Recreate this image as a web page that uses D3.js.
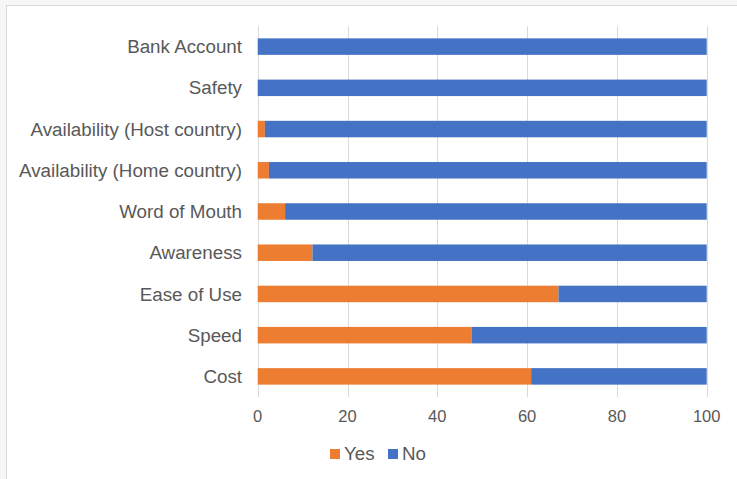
<!DOCTYPE html>
<html>
<head>
<meta charset="utf-8">
<script src="https://cdn.jsdelivr.net/npm/d3@7"></script>
<style>
  body { margin: 0; background: #f7f7f7; }
  svg { display: block; font-family: "Liberation Sans", Arial, sans-serif; }
</style>
</head>
<body>
<div class="canvas"></div>
<script>
// data, top to bottom as shown
const categories = ['Bank Account', 'Safety', 'Availability (Host country)', 'Availability (Home country)',
  'Word of Mouth', 'Awareness', 'Ease of Use', 'Speed', 'Cost']
const yesValues = [0, 0, 1.6, 2.5, 6.1, 12.2, 67.0, 47.7, 60.9]
const noValues = yesValues.map(v => 100 - v)
const seriesNames = ['Yes', 'No']
const seriesColors = ['#ED7D31', '#4472C4']
const xTicks = [0, 20, 40, 60, 80, 100]

const dims = { width: 737, height: 479 }
const plot = { left: 257.7, right: 706.7, top: 26, bottom: 397 }

const svg = d3.select('.canvas')
  .append('svg')
  .attr('width', dims.width)
  .attr('height', dims.height)

// white chart area with light frame on top/left
svg.append('rect')
  .attr('x', 6).attr('y', 5)
  .attr('width', dims.width - 6).attr('height', dims.height - 5)
  .attr('fill', '#fff')
svg.append('line').attr('x1', 6.5).attr('x2', 6.5).attr('y1', 5).attr('y2', dims.height)
  .attr('stroke', '#d9d9d9')
svg.append('line').attr('x1', 6).attr('x2', dims.width).attr('y1', 5.5).attr('y2', 5.5)
  .attr('stroke', '#d9d9d9')

const x = d3.scaleLinear().domain([0, 100]).range([plot.left, plot.right])
const y = d3.scaleBand().domain(categories).range([plot.top, plot.bottom]).paddingInner(0.6).paddingOuter(0.3)

// gridlines
svg.append('g')
  .selectAll('line')
  .data(xTicks)
  .join('line')
    .attr('x1', d => Math.round(x(d)) + 0.5)
    .attr('x2', d => Math.round(x(d)) + 0.5)
    .attr('y1', plot.top)
    .attr('y2', plot.bottom)
    .attr('stroke', '#d9d9d9')
    .attr('stroke-width', 1)

// stacked bars
const rows = categories.map((c, i) => ({ name: c, Yes: yesValues[i], No: noValues[i] }))
const stack = d3.stack().keys(seriesNames)
const color = d3.scaleOrdinal(seriesNames, seriesColors)

svg.append('g')
  .selectAll('g')
  .data(stack(rows))
  .join('g')
    .attr('fill', d => color(d.key))
  .selectAll('rect')
  .data(d => d)
  .join('rect')
    .attr('x', d => x(d[0]))
    .attr('width', d => x(d[1]) - x(d[0]))
    .attr('y', d => y(d.data.name))
    .attr('height', y.bandwidth())

// category labels
svg.append('g')
  .selectAll('text')
  .data(categories)
  .join('text')
    .attr('x', 242)
    .attr('y', d => y(d) + y.bandwidth() / 2)
    .attr('dy', '0.35em')
    .attr('text-anchor', 'end')
    .attr('fill', '#595959')
    .attr('font-size', 18.8)
    .text(d => d)

// x tick labels
svg.append('g')
  .selectAll('text')
  .data(xTicks)
  .join('text')
    .attr('x', d => x(d))
    .attr('y', 422)
    .attr('text-anchor', 'middle')
    .attr('fill', '#595959')
    .attr('font-size', 16.5)
    .text(d => d)

// legend
const legendX = [330, 388]
const legend = svg.append('g')
  .selectAll('g')
  .data(seriesNames)
  .join('g')
    .attr('transform', (d, i) => `translate(${legendX[i]}, 448)`)
legend.append('rect')
  .attr('width', 10).attr('height', 10).attr('y', 1)
  .attr('fill', d => color(d))
legend.append('text')
  .attr('x', 14)
  .attr('y', 12)
  .attr('fill', '#595959')
  .attr('font-size', 18.8)
  .text(d => d)
</script>
</body>
</html>
